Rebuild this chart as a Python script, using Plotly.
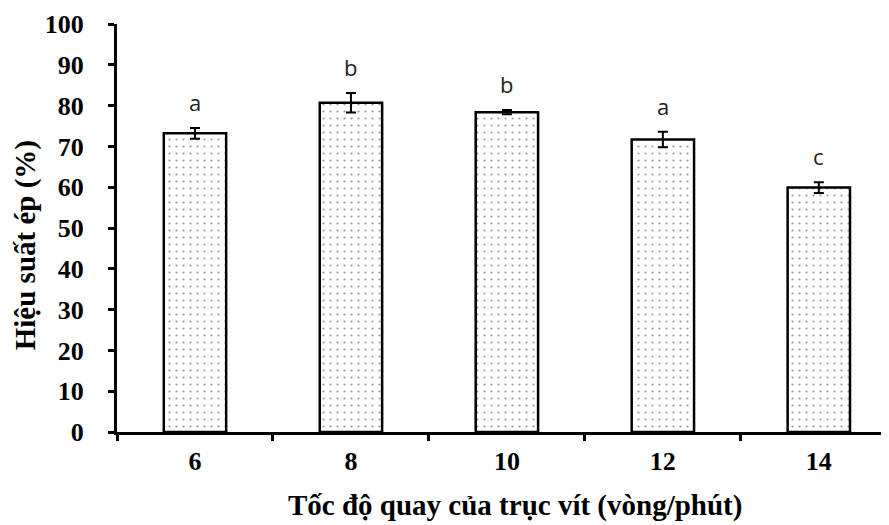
import plotly.graph_objects as go

categories = ["6", "8", "10", "12", "14"]
values = [73.2, 80.7, 78.4, 71.7, 59.9]
errors = [1.3, 2.4, 0.5, 1.9, 1.3]
letters = ["a", "b", "b", "a", "c"]
y_ticks = [0, 10, 20, 30, 40, 50, 60, 70, 80, 90, 100]
x_title = "Tốc độ quay của trục vít (vòng/phút)"
y_title = "Hiệu suất ép (%)"

fig = go.Figure()
fig.add_trace(go.Bar(
    x=categories, y=values,
    width=0.4,
    marker=dict(
        color="white",
        line=dict(color="black", width=2.5),
        pattern=dict(shape=".", size=7, solidity=0.08, fgcolor="#333", bgcolor="white", fillmode="overlay"),
    ),
    error_y=dict(type="data", array=errors, visible=True, color="black", thickness=2, width=5),
    showlegend=False,
))

for i, (v, e, t) in enumerate(zip(values, errors, letters)):
    fig.add_annotation(x=i, y=v + e, text=t, showarrow=False, yanchor="middle", yshift=26,
                       font=dict(family="Open Sans, Liberation Sans, sans-serif", size=22, color="#222"))

serif = "Liberation Serif, Times New Roman, serif"
title_font = dict(family=serif, size=29, color="black", weight="bold")
fig.add_annotation(xref="paper", yref="paper", x=0.515, y=-0.179, text=x_title, showarrow=False,
                   xanchor="center", yanchor="middle", font=title_font)
fig.add_annotation(xref="paper", yref="paper", x=-0.1190, y=0.458, text=y_title, showarrow=False,
                   textangle=-90, xanchor="center", yanchor="middle", font=title_font)

fig.update_layout(
    width=881, height=517,
    margin=dict(l=109, r=0, t=16, b=93),
    plot_bgcolor="white", paper_bgcolor="white",
    bargap=0.6,
    xaxis=dict(
        type="category", range=[-0.5, 4.45],
        showline=True, linecolor="black", linewidth=3,
        ticks="outside", tickson="boundaries", ticklen=6, tickwidth=3, tickcolor="black",
        ticklabelstandoff=4,
        tickfont=dict(family=serif, size=26, color="black", weight="bold"),
        showgrid=False, zeroline=False, automargin=False,
    ),
    yaxis=dict(
        range=[0, 100], tickvals=y_ticks,
        showline=True, linecolor="black", linewidth=3,
        ticks="outside", ticklen=6, tickwidth=3, tickcolor="black",
        ticklabelstandoff=19,
        tickfont=dict(family=serif, size=26, color="black", weight="bold"),
        showgrid=False, zeroline=False, automargin=False,
    ),
)

fig.write_html("out.html")
